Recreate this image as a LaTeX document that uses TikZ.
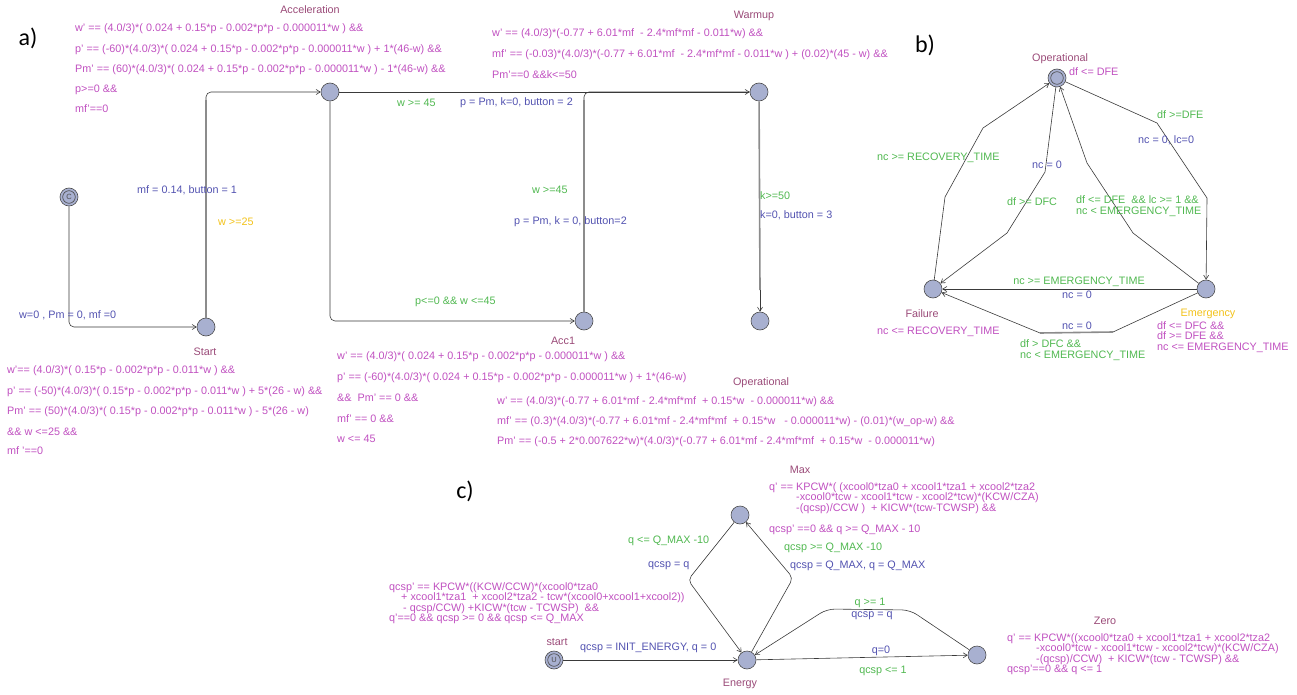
\documentclass[tikz,border=0pt]{standalone}
\usepackage{fontspec}
\setmainfont{Liberation Sans}
\newfontfamily\bigfont{Carlito}
\usetikzlibrary{arrows.meta}
\definecolor{locfill}{HTML}{A8B0D0}
\definecolor{locname}{HTML}{9A4A78}
\definecolor{invc}{HTML}{C050C0}
\definecolor{guardc}{HTML}{50B850}
\definecolor{updc}{HTML}{5252B0}
\definecolor{syncc}{HTML}{F2C21A}
\definecolor{edgec}{HTML}{3A3A3A}
\definecolor{gedgec}{HTML}{8C8C8C}
\begin{document}
\begin{tikzpicture}[x=1pt,y=-1pt,
  loc/.style={circle,draw=black!70,fill=locfill,minimum size=18pt,inner sep=0,line width=0.6pt},
  edge/.style={draw=edgec,line width=0.6pt,-{Straight Barb[length=4pt,width=5pt]}},
  plainedge/.style={draw=edgec,line width=0.6pt},
  gedge/.style={draw=gedgec,line width=1.6pt},
  t/.style={inner sep=0,anchor=west,font=\fontsize{10.8}{10.5}\selectfont,align=left},
  tc/.style={t,anchor=center},
  nm/.style={tc,text=locname},
  inv/.style={t,text=invc},
  grd/.style={t,text=guardc},
  upd/.style={t,text=updc},
  syn/.style={t,text=syncc},
  locmark/.style={text=black!70,font=\fontsize{7.5}{7.5}\selectfont},
  big/.style={inner sep=0,font=\bigfont\fontsize{24}{24}\selectfont}
]
\useasboundingbox (0,0) rectangle (1297,695);

% ================= a) =================
\node[big] (la) at (28,38) {a)};
\node[loc,locmark] (I) at (69,197) {C};
\draw[line width=0.6pt,draw=black!70] (I) circle (6.3);
\node[loc] (S) at (206,327) {};
\node[loc] (A) at (330,92) {};
\node[loc] (W) at (759,92) {};
\node[loc] (C1) at (584,321) {};
\node[loc] (O) at (760,321) {};

\coordinate (sa) at (206,100);
\coordinate (cw) at (584,100);
\coordinate (wo) at (760,290);

\draw[edge,rounded corners=5pt] (I) |- (S);
\draw[gedge] (S) -- (sa);
\draw[edge,rounded corners=5pt] (sa) |- (A);
\draw[edge] (A) -- (W);
\draw[edge,rounded corners=5pt] (A) |- (C1);
\draw[gedge] (C1) -- (cw);
\draw[plainedge,rounded corners=5pt] (cw) |- (W);
\draw[gedge] (W) -- (wo);
\draw[edge] (wo) -- (O);

\node[nm] (nA) at (310,10) {Acceleration};
\node[inv] (iA1) at (75,29) {w' == (4.0/3)*( 0.024 + 0.15*p - 0.002*p*p - 0.000011*w ) \&\&};
\node[inv] (iA2) at (75,50) {p' == (-60)*(4.0/3)*( 0.024 + 0.15*p - 0.002*p*p - 0.000011*w ) + 1*(46-w) \&\&};
\node[inv] (iA3) at (75,70) {Pm' == (60)*(4.0/3)*( 0.024 + 0.15*p - 0.002*p*p - 0.000011*w ) - 1*(46-w) \&\&};
\node[inv] (iA4) at (75,90) {p>=0 \&\&};
\node[inv] (iA5) at (75,109) {mf'==0};

\node[grd] (g1) at (397,103) {w >= 45};
\node[upd] (u1) at (460,103) {p = Pm, k=0, button = 2};
\node[upd] (u2) at (137,190) {mf = 0.14, button = 1};
\node[syn] (s2) at (218,222) {w >=25};
\node[upd] (u3) at (19,315) {w=0 , Pm = 0, mf =0};
\node[nm] (nS) at (205,352) {Start};
\node[inv] (iS1) at (7,371) {w'== (4.0/3)*( 0.15*p - 0.002*p*p - 0.011*w ) \&\&};
\node[inv] (iS2) at (7,392) {p' == (-50)*(4.0/3)*( 0.15*p - 0.002*p*p - 0.011*w ) + 5*(26 - w) \&\&};
\node[inv] (iS3) at (7,412) {Pm' == (50)*(4.0/3)*( 0.15*p - 0.002*p*p - 0.011*w ) - 5*(26 - w)};
\node[inv] (iS4) at (7,432) {\&\& w <=25 \&\&};
\node[inv] (iS5) at (7,451) {mf '==0};

\node[grd] (g4) at (532,190) {w >=45};
\node[upd] (u4) at (514,222) {p = Pm, k = 0, button=2};
\node[grd] (g5) at (415,302) {p<=0 \&\& w <=45};
\node[nm] (nC) at (563,341) {Acc1};
\node[inv] (iC1) at (337,357) {w' == (4.0/3)*( 0.024 + 0.15*p - 0.002*p*p - 0.000011*w ) \&\&};
\node[inv] (iC2) at (337,378) {p' == (-60)*(4.0/3)*( 0.024 + 0.15*p - 0.002*p*p - 0.000011*w ) + 1*(46-w)};
\node[inv] (iC3) at (337,398) {\&\&\ \ Pm' == 0 \&\&};
\node[inv] (iC4) at (337,419) {mf' == 0 \&\&};
\node[inv] (iC5) at (337,439) {w <= 45};

\node[nm] (nW) at (754,16) {Warmup};
\node[inv] (iW1) at (492,34) {w' == (4.0/3)*(-0.77 + 6.01*mf\ \ - 2.4*mf*mf - 0.011*w) \&\&};
\node[inv] (iW2) at (492,55) {mf' == (-0.03)*(4.0/3)*(-0.77 + 6.01*mf\ \ - 2.4*mf*mf - 0.011*w ) + (0.02)*(45 - w) \&\&};
\node[inv] (iW3) at (492,75) {Pm'==0 \&\&k<=50};
\node[grd] (g6) at (760,196) {k>=50};
\node[upd] (u6) at (760,215) {k=0, button = 3};

\node[nm] (nO) at (761,383) {Operational};
\node[inv] (iO1) at (497,402) {w' == (4.0/3)*(-0.77 + 6.01*mf - 2.4*mf*mf\ \ + 0.15*w\ \ - 0.000011*w) \&\&};
\node[inv] (iO2) at (497,422) {mf' == (0.3)*(4.0/3)*(-0.77 + 6.01*mf - 2.4*mf*mf\ \ + 0.15*w\ \ \ - 0.000011*w) - (0.01)*(w\_op-w) \&\&};
\node[inv] (iO3) at (497,442) {Pm' == (-0.5 + 2*0.007622*w)*(4.0/3)*(-0.77 + 6.01*mf - 2.4*mf*mf\ \ + 0.15*w\ \ - 0.000011*w)};

% ================= b) =================
\node[big] (lb) at (925,45) {b)};
\node[loc] (BO) at (1057,78) {};
\draw[line width=0.6pt,draw=black!70] (BO) circle (6.3);
\node[loc] (BF) at (933,289) {};
\node[loc] (BE) at (1206,289) {};

\draw[edge] (BF) -- (945,197) -- (983,128) -- (BO);
\draw[edge] (BO) -- (1045,172) -- (1007,233) -- (BF);
\draw[edge] (BE) -- (1133,233) -- (1087,163) -- (BO);
\draw[edge] (BO) -- (1157,123) -- (1207,198) -- (BE);
\draw[edge] (BE) -- (BF);
\coordinate (bl1) at (1113,332);
\coordinate (bl2) at (1040,333);
\draw[plainedge] (BE) -- (bl1);
\draw[gedge] (bl1) -- (bl2);
\draw[edge] (bl2) -- (BF);

\node[nm] (nBO) at (1060,59) {Operational};
\node[inv] (iBO) at (1069,72) {df <= DFE};
\node[grd] (gb1) at (877,158) {nc >= RECOVERY\_TIME};
\node[upd] (ub2) at (1032,165) {nc = 0};
\node[grd] (gb2) at (1007,202) {df >= DFC};
\node[grd] (gb3) at (1076,206) {df <= DFE\ \ \&\& lc >= 1 \&\&\\nc < EMERGENCY\_TIME};
\node[grd] (gb4) at (1157,115) {df >=DFE};
\node[upd] (ub4) at (1138,140) {nc = 0, lc=0};
\node[tc,text=guardc] (gb5) at (1079,282) {nc >= EMERGENCY\_TIME};
\node[tc,text=updc] (ub5) at (1077,295) {nc = 0};
\node[tc,text=updc] (ub6) at (1077,326) {nc = 0};
\node[grd] (gb6) at (1020,350) {df > DFC \&\&\\nc < EMERGENCY\_TIME};
\node[nm] (nBF) at (922,314) {Failure};
\node[inv] (iBF) at (877,332) {nc <= RECOVERY\_TIME};
\node[tc,text=syncc] (nBE) at (1208,314) {Emergency};
\node[inv] (iBE) at (1157,337) {df <= DFC \&\&\\df >= DFE \&\&\\nc <= EMERGENCY\_TIME};

% ================= c) =================
\node[big] (lc) at (465,491) {c)};
\node[loc] (Mx) at (740,515) {};
\node[loc] (En) at (747,660) {};
\node[loc,locmark] (St) at (554,660) {U};
\draw[line width=0.6pt,draw=black!70] (St) circle (6.3);
\node[loc] (Z) at (977,655) {};

\draw[edge] (St) -- (En);
\draw[edge,rounded corners=5pt] (Mx) -- (688,580) -- (En);
\draw[edge,rounded corners=5pt] (En) -- (793,578) -- (Mx);
\draw[edge] (En) -- (Z);
\draw[edge,rounded corners=8pt] (Z) -- (910,610) -- (827,609) -- (En);

\node[nm] (nMx) at (800,470) {Max};
\node[inv] (iM1) at (769,498) {q' == KPCW*( (xcool0*tza0 + xcool1*tza1 + xcool2*tza2\\
\hspace*{27pt}-xcool0*tcw - xcool1*tcw - xcool2*tcw)*(KCW/CZA)\\
\hspace*{27pt}-(qcsp)/CCW )\ \ + KICW*(tcw-TCWSP) \&\&};
\node[inv] (iM2) at (769,530) {qcsp' ==0 \&\& q >= Q\_MAX - 10};
\node[grd] (gc1) at (628,541) {q <= Q\_MAX -10};
\node[upd] (uc1) at (648,566) {qcsp = q};
\node[grd] (gc2) at (784,548) {qcsp >= Q\_MAX -10};
\node[upd] (uc2) at (790,566) {qcsp = Q\_MAX, q = Q\_MAX};
\node[inv] (iE) at (389,603) {qcsp' == KPCW*((KCW/CCW)*(xcool0*tza0\\
\hspace*{12pt}+ xcool1*tza1\ \ + xcool2*tza2 - tcw*(xcool0+xcool1+xcool2))\\
\hspace*{14pt}- qcsp/CCW) +KICW*(tcw - TCWSP)\ \ \&\&\\
q'==0 \&\& qcsp >= 0 \&\& qcsp <= Q\_MAX};
\node[nm] (nSt) at (557,642) {start};
\node[upd] (uc3) at (580,648) {qcsp = INIT\_ENERGY, q = 0};
\node[nm] (nEn) at (740,684) {Energy};
\node[tc,text=guardc] (gc4) at (870,603) {q >= 1};
\node[tc,text=updc] (uc4) at (872,616) {qcsp = q};
\node[tc,text=updc] (uc5) at (881,651) {q=0};
\node[tc,text=guardc] (gc5) at (883,671) {qcsp <= 1};
\node[nm] (nZ) at (1105,621) {Zero};
\node[inv] (iZ) at (1007,654) {q' == KPCW*((xcool0*tza0 + xcool1*tza1 + xcool2*tza2\\
\hspace*{29pt}-xcool0*tcw - xcool1*tcw - xcool2*tcw)*(KCW/CZA)\\
\hspace*{29pt}-(qcsp)/CCW)\ \ + KICW*(tcw - TCWSP) \&\&\\
qcsp'==0 \&\& q <= 1};
\end{tikzpicture}
\end{document}
